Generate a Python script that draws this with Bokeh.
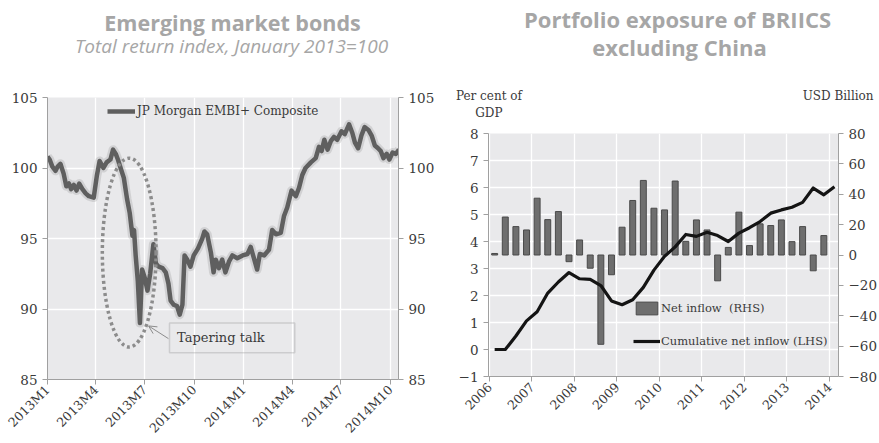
import numpy as np
import pandas as pd
from bokeh.plotting import figure
from bokeh.models import (Range1d, LinearAxis, FixedTicker, Label, Legend, LegendItem,
                          BoxAnnotation, Arrow, OpenHead)
from bokeh.layouts import row, column
from bokeh.core.properties import value
from bokeh.embed import file_html
from bokeh.resources import INLINE

# ---------------- data: left chart (JP Morgan EMBI+ Composite) ----------------
embi_dates = [
    "2013-01-01", "2013-01-05", "2013-01-10", "2013-01-16", "2013-01-20", "2013-01-25", "2013-01-31",
    "2013-02-05", "2013-02-10", "2013-02-14", "2013-02-19", "2013-02-24", "2013-03-01", "2013-03-07",
    "2013-03-13", "2013-03-19", "2013-03-28", "2013-04-03", "2013-04-08", "2013-04-15", "2013-04-21",
    "2013-04-28", "2013-05-03", "2013-05-08", "2013-05-12", "2013-05-17", "2013-05-23", "2013-05-29",
    "2013-06-03", "2013-06-08", "2013-06-11", "2013-06-14", "2013-06-18", "2013-06-22", "2013-06-26",
    "2013-07-01", "2013-07-06", "2013-07-11", "2013-07-17", "2013-07-22", "2013-07-27", "2013-08-03",
    "2013-08-09", "2013-08-14", "2013-08-18", "2013-08-24", "2013-08-30", "2013-09-04", "2013-09-09",
    "2013-09-13", "2013-09-18", "2013-09-24", "2013-09-30", "2013-10-08", "2013-10-16", "2013-10-20",
    "2013-10-25", "2013-11-01", "2013-11-06", "2013-11-10", "2013-11-16", "2013-11-22", "2013-11-28",
    "2013-12-05", "2013-12-11", "2013-12-20", "2013-12-30", "2014-01-08", "2014-01-14", "2014-01-20",
    "2014-01-26", "2014-01-31", "2014-02-08", "2014-02-17", "2014-02-23", "2014-03-02", "2014-03-11",
    "2014-03-17", "2014-03-23", "2014-03-31", "2014-04-08", "2014-04-14", "2014-04-20", "2014-04-26",
    "2014-05-06", "2014-05-15", "2014-05-21", "2014-05-26", "2014-05-31", "2014-06-06", "2014-06-12",
    "2014-06-18", "2014-06-24", "2014-07-02", "2014-07-08", "2014-07-16", "2014-07-22", "2014-07-27",
    "2014-08-02", "2014-08-08", "2014-08-14", "2014-08-21", "2014-08-27", "2014-09-02", "2014-09-08",
    "2014-09-13", "2014-09-18", "2014-09-24", "2014-09-29", "2014-10-05", "2014-10-11", "2014-10-17",
]
embi_values = [
    100.8, 100.6, 100.1, 99.8, 100.1, 100.3, 99.6,
    98.7, 98.9, 98.5, 98.8, 98.4, 98.9, 98.5,
    98.2, 98.0, 97.9, 99.5, 100.5, 100.0, 100.4,
    100.6, 101.3, 101.0, 100.6, 100.0, 99.3, 97.8,
    96.8, 95.2, 95.6, 93.8, 92.0, 89.0, 92.8,
    92.2, 91.3, 92.5, 94.6, 93.2, 93.0, 92.9,
    92.6, 91.8, 90.6, 90.3, 90.2, 89.6, 90.3,
    93.8, 93.5, 93.0, 93.8, 94.3, 95.0, 95.5,
    95.3, 94.0, 92.6, 93.5, 92.9, 93.5, 92.6,
    93.4, 93.8, 93.6, 93.8, 93.9, 94.4, 93.6,
    92.8, 93.9, 93.8, 94.2, 95.6, 95.3, 95.4,
    96.6, 97.2, 98.4, 98.0, 98.6, 99.5, 100.0,
    100.4, 100.7, 101.5, 101.2, 102.0, 101.3, 101.9,
    102.2, 102.0, 102.6, 102.4, 103.1, 102.5, 101.8,
    101.4, 102.3, 102.9, 102.7, 102.3, 101.6, 101.4,
    101.2, 100.7, 101.0, 100.6, 101.1, 101.0, 101.3,
]
left_tick_dates = ["2013-01-01", "2013-04-01", "2013-07-01", "2013-10-01",
                   "2014-01-01", "2014-04-01", "2014-07-01", "2014-10-01"]
left_tick_labels = ["2013M1", "2013M4", "2013M7", "2013M10",
                    "2014M1", "2014M4", "2014M7", "2014M10"]
left_y_ticks = [85, 90, 95, 100, 105]

# ---------------- data: right chart (BRIICS excl. China) ----------------
quarters = [f"{y}Q{q}" for y in range(2006, 2014) for q in range(1, 5)] + ["2014Q1"]
net_inflow_usd = [1, 25, 18.7, 16.5, 37.4, 23.3, 28.6, -4.4,
                  9.9, -8.7, -58.8, -13, 18.3, 35.9, 49.1, 30.8,
                  29.7, 48.7, 9, 23.1, 16.5, -17, 5, 28.2,
                  6.2, 20.5, 19.4, 23.1, 8.8, 18.7, -10.4, 12.8]
cum_inflow_pct = [0.0, 0.0, 0.5, 1.06, 1.4, 2.09, 2.5, 2.85,
                  2.62, 2.6, 2.37, 1.8, 1.66, 1.84, 2.3, 2.94,
                  3.45, 3.8, 4.26, 4.19, 4.34, 4.22, 4.0, 4.31,
                  4.51, 4.74, 5.05, 5.17, 5.27, 5.45, 5.98, 5.73, 6.03]
right_x_ticks = list(range(2006, 2015))
left_pct_ticks = list(range(-1, 9))
right_usd_ticks = list(range(-80, 81, 20))

# annotation (tapering talk) settings
TAPER_CENTER, TAPER_Y, TAPER_W_DAYS, TAPER_H = "2013-06-02", 94.0, 100, 13.4
BOX_LEFT, BOX_RIGHT, BOX_BOTTOM, BOX_TOP = "2013-08-16", "2014-04-06", 86.9, 89.0

SERIF = "DejaVu Serif"
SANS = "Open Sans"
TITLE_COLOR = "#a6a6a6"
BG = "#e9e9eb"
AX = "#a0a0a0"
TXT = "#3a3a3a"

base = pd.Timestamp("2013-01-01")
def to_days(d):
    return (pd.to_datetime(d) - base).days

def quarter_pos(q):
    y, n = q.split("Q")
    return int(y) + (int(n) - 1) * 0.25 + 0.125

def style_axis(ax, size="12.5px"):
    ax.axis_line_color = AX
    ax.major_tick_line_color = AX
    ax.minor_tick_line_color = None
    ax.major_tick_out = 5
    ax.major_tick_in = 0
    ax.major_label_text_font = SERIF
    ax.major_label_text_font_size = size
    ax.major_label_text_color = TXT

def header(width, height, x0, x1):
    # the header's frame is aligned with the chart frame below it (page pixels x0..x1)
    h = figure(width=width, height=height, output_backend="svg", toolbar_location=None,
               x_range=Range1d(x0, x1), y_range=Range1d(height, 0),
               x_axis_location=None, y_axis_location=None, min_border=0,
               outline_line_color=None, background_fill_color="white", border_fill_color="white")
    h.grid.visible = False
    return h

# ---------------- left header ----------------
H1 = 87
h1 = header(440, H1, 47, 398)
h1.text(x=[232], y=[22], text=["Emerging market bonds"], text_align="center",
        text_baseline="alphabetic", text_font=value(SANS), text_font_style="bold",
        text_font_size="21.5px", text_color=TITLE_COLOR)
h1.text(x=[231], y=[45], text=["Total return index, January 2013=100"], text_align="center",
        text_baseline="alphabetic", text_font=value(SANS), text_font_style="italic",
        text_font_size="19px", text_color=TITLE_COLOR)

# ---------------- left figure ----------------
ex = np.array([to_days(d) for d in embi_dates])
ey = np.array(embi_values)
tick_days = [to_days(d) for d in left_tick_dates]

p1 = figure(width=440, height=443 - H1, output_backend="svg", toolbar_location=None,
            x_range=Range1d(0, 653), y_range=Range1d(85, 105),
            min_border_left=47, min_border_right=42, min_border_top=10, min_border_bottom=64,
            background_fill_color=BG, border_fill_color="white", outline_line_color=None)
p1.yaxis.ticker = FixedTicker(ticks=left_y_ticks)
p1.add_layout(LinearAxis(ticker=FixedTicker(ticks=left_y_ticks)), "right")
p1.xaxis.ticker = FixedTicker(ticks=tick_days)
p1.xaxis.major_label_overrides = {d: l for d, l in zip(tick_days, left_tick_labels)}
p1.xaxis.major_label_orientation = np.pi / 4
for ax in p1.axis:
    style_axis(ax, "13.5px")
p1.xaxis.major_label_text_font_size = "12.5px"
p1.xaxis.major_label_standoff = 3
p1.xgrid.ticker = FixedTicker(ticks=tick_days)
p1.ygrid.ticker = FixedTicker(ticks=left_y_ticks)
for g in p1.grid:
    g.grid_line_color = "white"
    g.grid_line_width = 1.3

p1.line(ex, ey, line_color="#8a8a8a", line_width=9, line_alpha=0.25, line_join="round")
embi_line = p1.line(ex, ey, line_color="#5f5f5f", line_width=4.5, line_join="round")

p1.ellipse(x=[to_days(TAPER_CENTER)], y=[TAPER_Y], width=[TAPER_W_DAYS], height=[TAPER_H],
           fill_alpha=0, line_color="#8c8c8c", line_width=3.5, line_dash="3 3")
p1.add_layout(BoxAnnotation(left=to_days(BOX_LEFT), right=to_days(BOX_RIGHT), bottom=BOX_BOTTOM,
                            top=BOX_TOP, fill_alpha=0, line_color="#8c8c8c", line_width=1.5))
p1.add_layout(Label(x=to_days("2013-08-30"), y=(BOX_BOTTOM + BOX_TOP) / 2, text="Tapering talk",
                    text_font=SERIF, text_font_size="13px", text_color=TXT, text_baseline="middle"))
p1.add_layout(Arrow(end=OpenHead(size=8, line_color="#8c8c8c", line_width=1),
                    x_start=to_days("2013-08-14"), y_start=87.9, x_end=to_days("2013-07-08"), y_end=88.8,
                    line_color="#8c8c8c", line_width=1))

leg1 = Legend(items=[LegendItem(label="JP Morgan EMBI+ Composite", renderers=[embi_line])],
              location=(60, 260), padding=0, margin=0, spacing=0, glyph_width=28, glyph_height=16,
              label_height=16, label_standoff=2, background_fill_alpha=0, border_line_color=None,
              label_text_font=SERIF, label_text_font_size="12px", label_text_color=TXT)
p1.add_layout(leg1)

# ---------------- right header ----------------
TOP2 = 60
H2 = 133 - TOP2
h2 = header(439, H2, 488, 838)
h2.text(x=[677], y=[18], text=["Portfolio exposure of BRIICS"], text_align="center",
        text_baseline="alphabetic", text_font=value(SANS), text_font_style="bold",
        text_font_size="22px", text_color=TITLE_COLOR)
h2.text(x=[679], y=[46], text=["excluding China"], text_align="center",
        text_baseline="alphabetic", text_font=value(SANS), text_font_style="bold",
        text_font_size="22px", text_color=TITLE_COLOR)

# ---------------- right figure ----------------
qx = np.array([quarter_pos(q) for q in quarters])

p2 = figure(width=439, height=443 - H2, output_backend="svg", toolbar_location=None,
            x_range=Range1d(2005.98, 2014.22), y_range=Range1d(-1, 8),
            min_border_left=48, min_border_right=41, min_border_top=TOP2, min_border_bottom=67,
            background_fill_color=BG, border_fill_color="white", outline_line_color=None)
p2.extra_y_ranges = {"usd": Range1d(-80, 80)}
p2.add_layout(LinearAxis(y_range_name="usd", ticker=FixedTicker(ticks=right_usd_ticks)), "right")
p2.yaxis[0].ticker = FixedTicker(ticks=left_pct_ticks)
p2.xaxis.ticker = FixedTicker(ticks=right_x_ticks)
p2.xaxis.major_label_orientation = np.pi / 4
for ax in p2.axis:
    style_axis(ax, "13.5px")
p2.xaxis.major_label_text_font_size = "12.5px"
p2.xaxis.major_label_standoff = 3
p2.xgrid.ticker = FixedTicker(ticks=right_x_ticks)
p2.ygrid.ticker = FixedTicker(ticks=left_pct_ticks)
for g in p2.grid:
    g.grid_line_color = "white"
    g.grid_line_width = 1.3

# unit captions of the two y axes, drawn as labels of an invisible axis above the frame
CAP_L, CAP_R = 2005.99, 2014.21
cap_axis = LinearAxis(ticker=FixedTicker(ticks=[CAP_L, CAP_R]),
                      major_label_overrides={CAP_L: "Per cent of\nGDP", CAP_R: "USD Billion\n\u00a0"},
                      axis_line_color=None, major_tick_line_color=None, minor_tick_line_color=None,
                      major_tick_out=0, major_tick_in=0, major_label_standoff=14,
                      major_label_text_font=SERIF, major_label_text_font_size="12px",
                      major_label_text_color=TXT)
p2.add_layout(cap_axis, "above")

bars = p2.vbar(x=qx[:len(net_inflow_usd)], top=net_inflow_usd, bottom=0, width=0.14,
               y_range_name="usd", fill_color="#6e6e6e", line_color="#4a4a4a", line_width=1)
cum_line = p2.line(qx, cum_inflow_pct, line_color="#141414", line_width=3.2, line_join="round")

leg2 = Legend(items=[LegendItem(label="Net inflow  (RHS)", renderers=[bars]),
                     LegendItem(label="Cumulative net inflow (LHS)", renderers=[cum_line])],
              location=(145, 27), padding=0, margin=0, spacing=17, glyph_width=27, glyph_height=16,
              label_height=16, label_standoff=1, background_fill_alpha=0, border_line_color=None,
              label_text_font=SERIF, label_text_font_size="11.5px", label_text_color=TXT)
p2.add_layout(leg2)

layout = row(column(h1, p1, spacing=0), column(h2, p2, spacing=0), spacing=0)
open("out.html", "w").write(file_html(layout, INLINE))
